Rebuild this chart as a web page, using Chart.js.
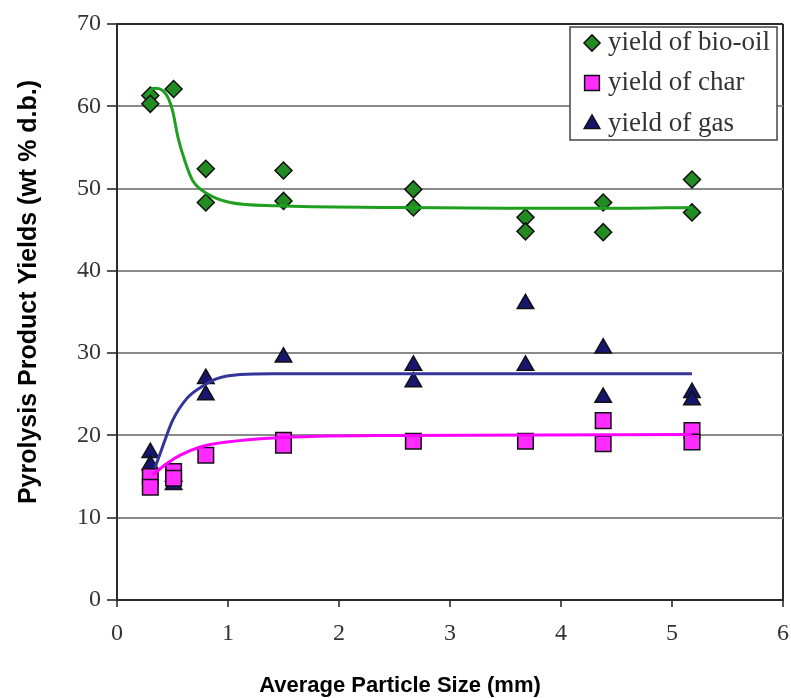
<!DOCTYPE html>
<html>
<head>
<meta charset="utf-8">
<title>Pyrolysis product yields vs particle size</title>
<script src="https://cdn.jsdelivr.net/npm/chart.js@4/dist/chart.umd.min.js"></script>
<style>
  html, body { margin: 0; padding: 0; background: #fff; }
  #wrap { width: 791px; height: 698px; }
</style>
</head>
<body>
<div id="wrap"><canvas id="chart" width="791" height="698"></canvas></div>
<script>
// ----- measured points (mm, wt % d.b.) -----
const bioOilX = [0.30, 0.30, 0.51, 0.80, 0.80, 1.50, 1.50, 2.67, 2.67, 3.68, 3.68, 4.38, 4.38, 5.18, 5.18];
const bioOilY = [61.3, 60.3, 62.1, 52.4, 48.3, 52.2, 48.5, 49.9, 47.7, 46.5, 44.8, 48.3, 44.7, 51.1, 47.1];

const gasX = [0.30, 0.30, 0.51, 0.51, 0.80, 0.80, 1.50, 2.67, 2.67, 3.68, 3.68, 4.38, 4.38, 5.18, 5.18];
const gasY = [17.9, 16.4, 15.0, 14.0, 26.9, 24.9, 29.5, 28.5, 26.5, 36.0, 28.5, 30.6, 24.6, 25.2, 24.3];

const charX = [0.30, 0.30, 0.51, 0.51, 0.80, 1.50, 1.50, 2.67, 3.68, 4.38, 4.38, 5.18, 5.18];
const charY = [15.0, 13.7, 15.6, 14.8, 17.6, 19.4, 18.8, 19.3, 19.3, 21.8, 19.0, 20.6, 19.2];

// ----- trend curves -----
const bioCurveX = [0.27, 0.33, 0.44, 0.50, 0.55, 0.61, 0.68, 0.81, 1.02, 1.44, 2.5, 3.5, 4.5, 5.18];
const bioCurveY = [61.4, 62.2, 61.5, 59.5, 56.2, 53.4, 51.0, 49.4, 48.3, 47.9, 47.7, 47.6, 47.6, 47.7];

const gasCurveX = [0.34, 0.41, 0.50, 0.63, 0.75, 0.90, 1.11, 1.41, 2.5, 5.18];
const gasCurveY = [16.0, 18.6, 21.8, 24.5, 25.8, 26.9, 27.4, 27.5, 27.5, 27.5];

const charCurveX = [0.32, 0.45, 0.57, 0.75, 0.99, 1.41, 2.5, 5.18];
const charCurveY = [15.2, 16.6, 17.6, 18.6, 19.2, 19.7, 20.0, 20.1];

const seriesNames = ["yield of bio-oil", "yield of char", "yield of gas"];
const xTitle = "Average Particle Size (mm)";
const yTitle = "Pyrolysis Product Yields (wt % d.b.)";

// ----- styles -----
const OIL_FILL = "#228b22";
const OIL_LINE = "#1f9f1f";
const CHAR_FILL = "#ff2bff";
const CHAR_LINE = "#ff00ff";
const GAS_FILL = "#16166e";
const GAS_LINE = "#34349a";
const EDGE = "#111";
const GRID = "#8a8a8a";
const FRAME = "#2b2b2b";
const SERIF = "'Liberation Serif', 'Times New Roman', serif";
const SANS = "'Liberation Sans', Arial, sans-serif";

const pts = (xs, ys) => xs.map((x, i) => ({ x, y: ys[i] }));

const markerStyle = {
  oil:  { pointStyle: "rectRot",  radius: 8.5, fill: OIL_FILL },
  char: { pointStyle: "rect",     radius: 11,  fill: CHAR_FILL },
  gas:  { pointStyle: "triangle", radius: 9.5, fill: GAS_FILL },
};

function curve(xs, ys, color) {
  return {
    data: pts(xs, ys),
    showLine: true,
    borderColor: color,
    borderWidth: 3,
    pointRadius: 0,
    pointHoverRadius: 0,
    cubicInterpolationMode: "monotone",
    fill: false,
  };
}

function markers(xs, ys, m) {
  return {
    data: pts(xs, ys),
    showLine: false,
    pointStyle: m.pointStyle,
    pointRadius: m.radius,
    pointHoverRadius: m.radius,
    backgroundColor: m.fill,
    borderColor: EDGE,
    borderWidth: 1.5,
  };
}

// axis titles, placed off-center like the original figure
const axisCaptions = {
  id: "axisCaptions",
  afterDraw(chart) {
    const { ctx, chartArea } = chart;
    ctx.save();
    ctx.fillStyle = "#000";
    ctx.textAlign = "center";
    ctx.textBaseline = "middle";
    ctx.font = `bold 22px ${SANS}`;
    ctx.fillText(xTitle, 400, chartArea.bottom + 86);
    ctx.font = `bold 25px ${SANS}`;
    ctx.translate(29, chartArea.top + 268);
    ctx.rotate(-Math.PI / 2);
    ctx.fillText(yTitle, 0, 0);
    ctx.restore();
  },
};

// boxed legend in the top-right corner of the plot
const legendBox = {
  id: "legendBox",
  afterDraw(chart) {
    const { ctx, chartArea } = chart;
    const w = 207, h = 113;
    const left = chartArea.right - 213;
    const top = chartArea.top + 3;
    ctx.save();
    ctx.fillStyle = "#fff";
    ctx.fillRect(left, top, w, h);
    ctx.strokeStyle = "#444";
    ctx.lineWidth = 1.5;
    ctx.strokeRect(left, top, w, h);

    const rows = [
      { name: seriesNames[0], m: markerStyle.oil,  dy: 16 },
      { name: seriesNames[1], m: markerStyle.char, dy: 56 },
      { name: seriesNames[2], m: markerStyle.gas,  dy: 97 },
    ];
    rows.forEach(r => {
      ctx.fillStyle = r.m.fill;
      ctx.strokeStyle = EDGE;
      ctx.lineWidth = 1.5;
      Chart.helpers.drawPoint(ctx, {
        pointStyle: r.m.pointStyle,
        radius: r.m.radius * 0.95,
        rotation: 0,
        borderWidth: 1.5,
      }, left + 22, top + r.dy);
      ctx.fillStyle = "#333";
      ctx.font = `27px ${SERIF}`;
      ctx.textAlign = "left";
      ctx.textBaseline = "middle";
      ctx.fillText(r.name, left + 38, top + r.dy);
    });
    ctx.restore();
  },
};

new Chart(document.getElementById("chart"), {
  type: "scatter",
  data: {
    datasets: [
      curve(bioCurveX, bioCurveY, OIL_LINE),
      curve(gasCurveX, gasCurveY, GAS_LINE),
      curve(charCurveX, charCurveY, CHAR_LINE),
      markers(charX, charY, markerStyle.char),
      markers(gasX, gasY, markerStyle.gas),
      markers(bioOilX, bioOilY, markerStyle.oil),
    ],
  },
  options: {
    responsive: false,
    animation: false,
    events: [],
    layout: { autoPadding: false, padding: { top: 24, right: 8, left: 0, bottom: 0 } },
    plugins: {
      legend: { display: false },
      tooltip: { enabled: false },
    },
    scales: {
      x: {
        type: "linear",
        min: 0, max: 6,
        afterFit: (s) => { s.height = 98; s.paddingLeft = 0; s.paddingRight = 0; },
        ticks: {
          stepSize: 1,
          padding: 12,
          color: "#333",
          font: { family: SERIF, size: 24 },
        },
        grid: {
          drawOnChartArea: true,
          color: (c) => (c.tick && c.tick.value === 6 ? FRAME : "rgba(0,0,0,0)"),
          lineWidth: 2,
          tickLength: 7,
          tickColor: "#555",
        },
        border: { color: FRAME, width: 2 },
      },
      y: {
        type: "linear",
        min: 0, max: 70,
        afterFit: (s) => { s.width = 117; },
        ticks: {
          stepSize: 10,
          padding: 6,
          color: "#333",
          font: { family: SERIF, size: 24 },
        },
        grid: {
          color: (c) => (c.tick && (c.tick.value === 70 || c.tick.value === 0) ? FRAME : GRID),
          lineWidth: 2,
          tickLength: 10,
          tickColor: "#555",
        },
        border: { color: FRAME, width: 2 },
      },
    },
  },
  plugins: [axisCaptions, legendBox],
});
</script>
</body>
</html>
